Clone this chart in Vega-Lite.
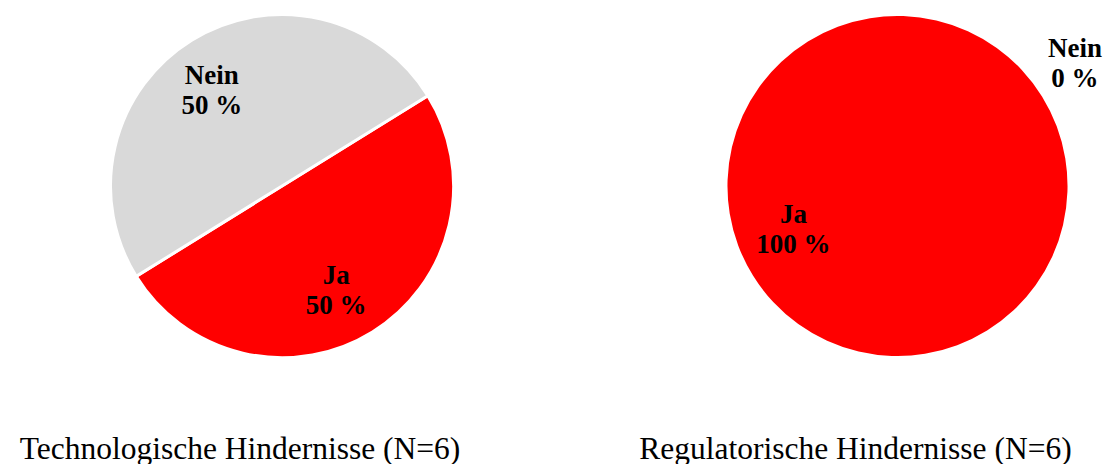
{
  "$schema": "https://vega.github.io/schema/vega-lite/v6.json",
  "padding": 0,
  "background": "white",
  "bounds": "flush",
  "config": {"view": {"stroke": null}},
  "spacing": 124,
  "datasets": {
    "pies": [
      {"chart": "Technologische Hindernisse (N=6)", "category": "Ja", "value": 3, "label": "Ja\n50 %"},
      {"chart": "Technologische Hindernisse (N=6)", "category": "Nein", "value": 3, "label": "Nein\n50 %"},
      {"chart": "Regulatorische Hindernisse (N=6)", "category": "Ja", "value": 6, "label": "Ja\n100 %"},
      {"chart": "Regulatorische Hindernisse (N=6)", "category": "Nein", "value": 0, "label": "Nein\n0 %"}
    ]
  },
  "hconcat": [
    {
      "width": 564,
      "height": 372,
      "data": {"name": "pies"},
      "transform": [{"filter": "datum.chart === 'Technologische Hindernisse (N=6)'"}],
      "title": {"text": "Technologische Hindernisse (N=6)", "orient": "bottom", "font": "Liberation Serif", "fontSize": 31.5, "fontWeight": "normal", "color": "black", "offset": 62, "dx": -42},
      "encoding": {
        "theta": {"field": "value", "type": "quantitative", "stack": true, "scale": {"range": [1.016, 7.2992]}},
        "color": {"field": "category", "type": "nominal", "scale": {"domain": ["Ja", "Nein"], "range": ["#ff0000", "#d9d9d9"]}, "legend": null}
      },
      "layer": [
        {"mark": {"type": "arc", "outerRadius": 171.5, "stroke": "white", "strokeWidth": 3}},
        {"mark": {"type": "text", "radius": 118, "dx": -8, "dy": -10, "font": "Liberation Serif", "fontSize": 27, "fontWeight": "bold", "lineBreak": "\n", "lineHeight": 30, "align": "center", "baseline": "middle"},
         "encoding": {"text": {"field": "label"}, "color": {"value": "black"}}}
      ]
    },
    {
      "width": 419,
      "height": 372,
      "data": {"name": "pies"},
      "transform": [{"filter": "datum.chart === 'Regulatorische Hindernisse (N=6)'"}],
      "title": {"text": "Regulatorische Hindernisse (N=6)", "orient": "bottom", "font": "Liberation Serif", "fontSize": 31.5, "fontWeight": "normal", "color": "black", "offset": 62, "dx": -42},
      "encoding": {
        "theta": {"field": "value", "type": "quantitative", "stack": true, "scale": {"range": [1.016, 7.2992]}},
        "color": {"field": "category", "type": "nominal", "scale": {"domain": ["Ja", "Nein"], "range": ["#ff0000", "#d9d9d9"]}, "legend": null}
      },
      "layer": [
        {"mark": {"type": "arc", "outerRadius": 170}},
        {"transform": [{"filter": "datum.value > 0"}],
         "mark": {"type": "text", "radius": 113, "dx": -8, "dy": -31, "font": "Liberation Serif", "fontSize": 27, "fontWeight": "bold", "lineBreak": "\n", "lineHeight": 30, "align": "center", "baseline": "middle"},
         "encoding": {"text": {"field": "label"}, "color": {"value": "black"}}},
        {"transform": [{"filter": "datum.value == 0"}],
         "mark": {"type": "text", "radius": 217, "dx": -7, "dy": -23, "font": "Liberation Serif", "fontSize": 27, "fontWeight": "bold", "lineBreak": "\n", "lineHeight": 30, "align": "center", "baseline": "middle"},
         "encoding": {"text": {"field": "label"}, "color": {"value": "black"}}}
      ]
    }
  ]
}
